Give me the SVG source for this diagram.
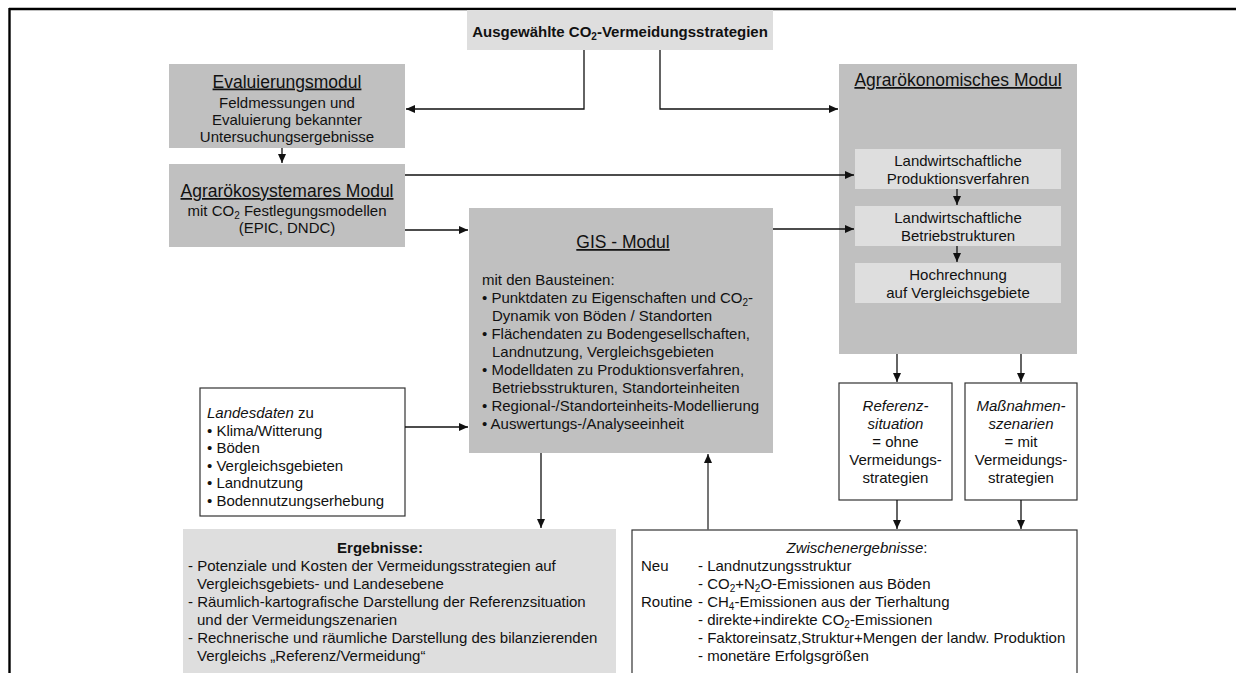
<svg xmlns="http://www.w3.org/2000/svg" width="1236" height="673" viewBox="0 0 1236 673">
<style>
text{font-family:"Liberation Sans",Arial,sans-serif;font-size:15px;fill:#111}
.t{font-size:17.5px;text-decoration:underline}
.m{text-anchor:middle}
.bd{font-weight:bold}
.i{font-style:italic}
.dk{fill:#c0c0c0}
.lt{fill:#dedede}
.wb{fill:#fff;stroke:#333;stroke-width:1.2}
.c{fill:none;stroke:#111;stroke-width:1.3}
.cg{fill:none;stroke:#666;stroke-width:1.8}
</style>
<defs>
<marker id="ah" markerUnits="userSpaceOnUse" markerWidth="10" markerHeight="10" refX="9" refY="5" orient="auto">
<path d="M0,1 L9,5 L0,9 z" fill="#111"/>
</marker>
</defs>
<g id="frame">
<line x1="9" y1="9" x2="1236" y2="9" stroke="#000" stroke-width="2.6"/>
<line x1="9.5" y1="8" x2="9.5" y2="673" stroke="#000" stroke-width="2.4"/>
</g>
<g id="strategien">
<rect x="467" y="10" width="306" height="40" class="lt"/>
<text x="620" y="36.5" class="m bd">Ausgewählte CO<tspan dy="3" font-size="10">2</tspan><tspan dy="-3">-Vermeidungsstrategien</tspan></text>
</g>
<g id="evaluierung">
<rect x="169" y="64" width="236" height="84" class="dk"/>
<text x="287" y="87.5" class="t m">Evaluierungsmodul</text>
<text x="287" y="108" class="m">Feldmessungen und</text>
<text x="287" y="125" class="m">Evaluierung bekannter</text>
<text x="287" y="142" class="m">Untersuchungsergebnisse</text>
</g>
<g id="agraroekosystem">
<rect x="169" y="164" width="236" height="83" class="dk"/>
<text x="287" y="197" class="t m">Agrarökosystemares Modul</text>
<text x="287" y="216" class="m">mit CO<tspan dy="3" font-size="10">2</tspan><tspan dy="-3"> Festlegungsmodellen</tspan></text>
<text x="287" y="233" class="m">(EPIC, DNDC)</text>
</g>
<g id="gis">
<rect x="469" y="208" width="304" height="245" class="dk"/>
<text x="623" y="248" class="t m">GIS - Modul</text>
<text x="482" y="285">mit den Bausteinen:</text>
<text x="482" y="303">• Punktdaten zu Eigenschaften und CO<tspan dy="3" font-size="10">2</tspan><tspan dy="-3">-</tspan></text>
<text x="492" y="321">Dynamik von Böden / Standorten</text>
<text x="482" y="339">• Flächendaten zu Bodengesellschaften,</text>
<text x="492" y="357">Landnutzung, Vergleichsgebieten</text>
<text x="482" y="375">• Modelldaten zu Produktionsverfahren,</text>
<text x="492" y="393">Betriebsstrukturen, Standorteinheiten</text>
<text x="482" y="411">• Regional-/Standorteinheits-Modellierung</text>
<text x="482" y="429">• Auswertungs-/Analyseeinheit</text>
</g>
<g id="agraroekonomie">
<rect x="839" y="64" width="238" height="290" class="dk"/>
<text x="958" y="86" class="t m">Agrarökonomisches Modul</text>
<rect x="855" y="149" width="206" height="40" class="lt"/>
<text x="958" y="166" class="m">Landwirtschaftliche</text>
<text x="958" y="184" class="m">Produktionsverfahren</text>
<rect x="855" y="206" width="206" height="40" class="lt"/>
<text x="958" y="223" class="m">Landwirtschaftliche</text>
<text x="958" y="241" class="m">Betriebstrukturen</text>
<rect x="855" y="263" width="206" height="40" class="lt"/>
<text x="958" y="280" class="m">Hochrechnung</text>
<text x="958" y="298" class="m">auf Vergleichsgebiete</text>
</g>
<g id="landesdaten">
<rect x="200" y="388" width="205" height="128" class="wb"/>
<text x="207" y="418"><tspan class="i">Landesdaten</tspan> zu</text>
<text x="207" y="436">• Klima/Witterung</text>
<text x="207" y="453">• Böden</text>
<text x="207" y="471">• Vergleichsgebieten</text>
<text x="207" y="488">• Landnutzung</text>
<text x="207" y="506">• Bodennutzungserhebung</text>
</g>
<g id="referenz">
<rect x="839" y="383" width="113" height="117" class="wb"/>
<text x="895.5" y="411" class="m i">Referenz-</text>
<text x="895.5" y="429" class="m i">situation</text>
<text x="895.5" y="447" class="m">= ohne</text>
<text x="895.5" y="465" class="m">Vermeidungs-</text>
<text x="895.5" y="483" class="m">strategien</text>
</g>
<g id="massnahmen">
<rect x="965" y="383" width="112" height="117" class="wb"/>
<text x="1021" y="411" class="m i">Maßnahmen-</text>
<text x="1021" y="429" class="m i">szenarien</text>
<text x="1021" y="447" class="m">= mit</text>
<text x="1021" y="465" class="m">Vermeidungs-</text>
<text x="1021" y="483" class="m">strategien</text>
</g>
<g id="ergebnisse">
<rect x="183" y="529" width="433" height="150" class="lt"/>
<text x="380" y="553" class="m bd">Ergebnisse:</text>
<text x="188" y="571">- Potenziale und Kosten der Vermeidungsstrategien auf</text>
<text x="197" y="589">Vergleichsgebiets- und Landesebene</text>
<text x="188" y="607">- Räumlich-kartografische Darstellung der Referenzsituation</text>
<text x="197" y="625">und der Vermeidungszenarien</text>
<text x="188" y="643">- Rechnerische und räumliche Darstellung des bilanzierenden</text>
<text x="197" y="661">Vergleichs „Referenz/Vermeidung“</text>
</g>
<g id="zwischenergebnisse">
<rect x="632" y="530" width="445" height="150" class="wb"/>
<text x="857" y="553" class="m"><tspan class="i">Zwischenergebnisse</tspan>:</text>
<text x="641" y="571">Neu</text>
<text x="698" y="571">- Landnutzungsstruktur</text>
<text x="698" y="589">- CO<tspan dy="3" font-size="10">2</tspan><tspan dy="-3">+N</tspan><tspan dy="3" font-size="10">2</tspan><tspan dy="-3">O-Emissionen aus Böden</tspan></text>
<text x="641" y="607">Routine</text>
<text x="698" y="607">- CH<tspan dy="3" font-size="10">4</tspan><tspan dy="-3">-Emissionen aus der Tierhaltung</tspan></text>
<text x="698" y="625">- direkte+indirekte CO<tspan dy="3" font-size="10">2</tspan><tspan dy="-3">-Emissionen</tspan></text>
<text x="698" y="643">- Faktoreinsatz,Struktur+Mengen der landw. Produktion</text>
<text x="698" y="661">- monetäre Erfolgsgrößen</text>
</g>
<g id="connectors">
<polyline points="584,50 584,109 406,109" class="c" marker-end="url(#ah)"/>
<polyline points="660,50 660,109 838,109" class="c" marker-end="url(#ah)"/>
<line x1="282" y1="148" x2="282" y2="163" class="c" marker-end="url(#ah)"/>
<line x1="405" y1="175" x2="854" y2="175" class="c" marker-end="url(#ah)"/>
<line x1="405" y1="230" x2="468" y2="230" class="c" marker-end="url(#ah)"/>
<line x1="773" y1="229" x2="854" y2="229" class="c" marker-end="url(#ah)"/>
<line x1="957" y1="189" x2="957" y2="205" class="c" marker-end="url(#ah)"/>
<line x1="957" y1="246" x2="957" y2="262" class="c" marker-end="url(#ah)"/>
<line x1="405" y1="427" x2="468" y2="427" class="c" marker-end="url(#ah)"/>
<line x1="541" y1="453" x2="541" y2="528" class="c" marker-end="url(#ah)"/>
<line x1="708" y1="530" x2="708" y2="454" class="cg" marker-end="url(#ah)"/>
<line x1="897" y1="354" x2="897" y2="382" class="c" marker-end="url(#ah)"/>
<line x1="1021" y1="354" x2="1021" y2="382" class="c" marker-end="url(#ah)"/>
<line x1="897" y1="500" x2="897" y2="529" class="c" marker-end="url(#ah)"/>
<line x1="1021" y1="500" x2="1021" y2="529" class="c" marker-end="url(#ah)"/>
</g>
</svg>
